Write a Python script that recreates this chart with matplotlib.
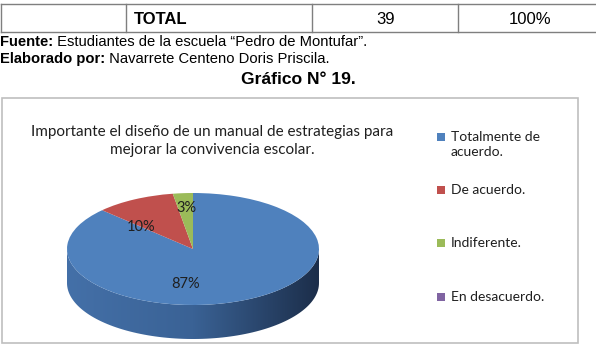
import numpy as np
import matplotlib.pyplot as plt
from matplotlib.patches import Polygon, Rectangle
from matplotlib.transforms import Affine2D
from matplotlib.colors import LinearSegmentedColormap

# data
categories = ['Totalmente de\nacuerdo.', 'De acuerdo.', 'Indiferente.', 'En desacuerdo.']
counts = [34, 4, 1, 0]
pct_labels = ['87%', '10%', '3%', '']
colors = ['#4f81bd', '#c0504d', '#9bbb59', '#8064a2']
total_row = ['TOTAL', '39', '100%']

W, H = 596, 349
fig = plt.figure(figsize=(W / 100, H / 100), dpi=100)
ax = fig.add_axes([0, 0, 1, 1])

page_font = 'Liberation Sans'
chart_font = 'Lato'

# table row at the top
line_c = '#7f7f7f'
ax.plot([1, 600], [4, 4], color=line_c, lw=1)
ax.plot([1, 600], [32, 32], color=line_c, lw=1)
for x in [1, 126, 312, 458]:
    ax.plot([x, x], [4, 32], color=line_c, lw=1)
ax.text(134, 19, total_row[0], fontsize=12, fontweight='bold', family=page_font,
        va='center', ha='left')
ax.text(386, 19, total_row[1], fontsize=12, family=page_font, va='center', ha='center')
ax.text(530, 19, total_row[2], fontsize=12, family=page_font, va='center', ha='center')

# source lines
fs = 10.6
t1 = ax.text(0, 42, 'Fuente:', fontsize=fs, fontweight='bold', family=page_font,
             va='center', ha='left')
ax.annotate(' Estudiantes de la escuela \u201cPedro de Montufar\u201d.', xy=(1, 0),
            xycoords=t1, va='bottom', ha='left', fontsize=fs, family=page_font)
t2 = ax.text(0, 59, 'Elaborado por:', fontsize=fs, fontweight='bold', family=page_font,
             va='center', ha='left')
ax.annotate(' Navarrete Centeno Doris Priscila.', xy=(1, 0),
            xycoords=t2, va='bottom', ha='left', fontsize=fs, family=page_font)
ax.text(298, 80, 'Gr\u00e1fico N\u00b0 19.', fontsize=12.6, fontweight='bold',
        family=page_font, va='center', ha='center')

# chart box
ax.add_patch(Rectangle((2, 98), 576, 245, facecolor='white', edgecolor='#bfbfbf', lw=1.2))

ax.text(212, 141, 'Importante el dise\u00f1o de un manual de estrategias para\n'
        'mejorar la convivencia escolar.', fontsize=11, family=chart_font,
        color='#1f1f1f', ha='center', va='center', linespacing=1.45)

# 3D-looking pie
cx, cy, a, b, depth = 193, 249, 126, 56, 34
tr = Affine2D().scale(a, -b).translate(cx, cy) + ax.transData
d = depth / b

wedges, _ = ax.pie(counts, colors=colors, startangle=90, counterclock=False,
                   radius=1, center=(0, 0), wedgeprops=dict(linewidth=0))
for w in wedges:
    w.set_transform(tr)
    w.set_zorder(3)

side_cmaps = {
    '#4f81bd': LinearSegmentedColormap.from_list('s', ['#4470a8', '#3a6295', '#1c2e4a']),
    '#c0504d': LinearSegmentedColormap.from_list('s', ['#a84542', '#6e2a28']),
    '#9bbb59': LinearSegmentedColormap.from_list('s', ['#87a44c', '#55682f']),
    '#8064a2': LinearSegmentedColormap.from_list('s', ['#6f578d', '#463759']),
}
grad = np.linspace(0, 1, 256).reshape(1, -1)
for w, col in zip(wedges, colors):
    for k in (-360, 0, 360):
        lo = max(w.theta1, 180 + k)
        hi = min(w.theta2, 360 + k)
        if hi <= lo:
            continue
        t = np.radians(np.linspace(lo, hi, 100))
        top = np.column_stack([np.cos(t), np.sin(t)])
        bot = np.column_stack([np.cos(t[::-1]), np.sin(t[::-1]) - d])
        poly = Polygon(np.vstack([top, bot]), closed=True, transform=tr,
                       facecolor='none', edgecolor='none')
        ax.add_patch(poly)
        im = ax.imshow(grad, cmap=side_cmaps[col], aspect='auto',
                       extent=(cx - a, cx + a, cy + b + depth, cy), zorder=2)
        im.set_clip_path(poly)

# percentage labels
label_pos = [(-0.06, -0.62), (-0.41, 0.4), (-0.05, 0.74)]
for txt, (px, py) in zip(pct_labels, label_pos):
    if txt:
        ax.text(px, py, txt, transform=tr, fontsize=10.5, family=chart_font,
                color='#1f1f1f', ha='center', va='center', zorder=5)

# legend
leg_y = [137, 190, 243, 297]
for cat, col, y in zip(categories, colors, leg_y):
    ax.add_patch(Rectangle((437, y - 4), 8, 8, facecolor=col, edgecolor='none'))
    ax.text(451, y - 6, cat, fontsize=10, family=chart_font, color='#1f1f1f',
            ha='left', va='top', linespacing=1.3)

ax.set_xlim(0, W)
ax.set_ylim(H, 0)
ax.set_aspect('auto')
ax.axis('off')

fig.savefig('out.png', dpi=100)
